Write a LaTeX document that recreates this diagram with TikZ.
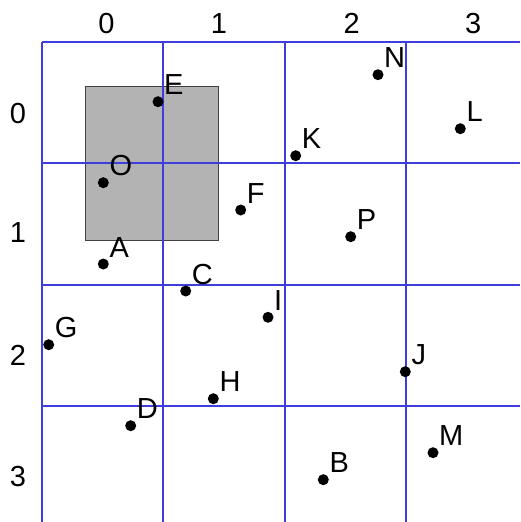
\documentclass[tikz,border=0pt]{standalone}
\usepackage{fontspec}
\setmainfont{Liberation Sans}
\usepackage{tikz}
\usetikzlibrary{positioning}
\definecolor{gridblue}{RGB}{62,62,222}
\definecolor{boxgray}{RGB}{179,179,179}
\tikzset{
  gridline/.style={draw=gridblue,line width=1.5pt},
  pt/.style={circle,fill=black,inner sep=0pt,minimum size=11pt},
  ptname/.style={anchor=base west,inner sep=0pt,font=\fontsize{29}{31}\selectfont},
  idx/.style={anchor=base,inner sep=0pt,font=\fontsize{29}{31}\selectfont},
}

\begin{document}
\begin{tikzpicture}[x=1pt,y=-1pt]
\useasboundingbox (0,0) rectangle (520,522);

% shaded block
\draw[fill=boxgray,draw=black!75,line width=1pt] (85.3,86) rectangle (218,240.3);

% grid
\foreach \g in {42,163,285,406} {
  \draw[gridline] (\g,42) -- (\g,522);
  \draw[gridline] (42,\g) -- (520,\g);
}

% column and row indices
\node[idx] (c0) at (106.5,33.3) {0};
\node[idx] (c1) at (219,33.3) {1};
\node[idx] (c2) at (351.7,33.3) {2};
\node[idx] (c3) at (473.3,33.3) {3};

\node[idx] (r0) at (18,123) {0};
\node[idx] (r1) at (18,242.5) {1};
\node[idx] (r2) at (18,365.5) {2};
\node[idx] (r3) at (18,486.5) {3};

% points
\node[pt] (E) at (158,101.7) {};
\node[pt] (O) at (103.3,182.7) {};
\node[pt] (A) at (103.3,264) {};
\node[pt] (K) at (295.7,155.7) {};
\node[pt] (F) at (240.7,210) {};
\node[pt] (N) at (378,74.7) {};
\node[pt] (L) at (460.3,128.7) {};
\node[pt] (P) at (350.7,236.7) {};
\node[pt] (C) at (185.7,291) {};
\node[pt] (I) at (268,317.3) {};
\node[pt] (G) at (48.7,344.7) {};
\node[pt] (J) at (405.3,371.7) {};
\node[pt] (H) at (213.3,398.7) {};
\node[pt] (D) at (130.7,425.7) {};
\node[pt] (M) at (433,452.7) {};
\node[pt] (B) at (323.3,479.7) {};

% point names
\node[ptname] (lE) at ([shift={(6,-7)}]E) {E};
\node[ptname] (lO) at ([shift={(6,-7)}]O) {O};
\node[ptname] (lA) at ([shift={(6,-7)}]A) {A};
\node[ptname] (lK) at ([shift={(6,-7)}]K) {K};
\node[ptname] (lF) at ([shift={(6,-7)}]F) {F};
\node[ptname] (lN) at ([shift={(6,-7)}]N) {N};
\node[ptname] (lL) at ([shift={(6,-7)}]L) {L};
\node[ptname] (lP) at ([shift={(6,-7)}]P) {P};
\node[ptname] (lC) at ([shift={(6,-7)}]C) {C};
\node[ptname] (lI) at ([shift={(6,-7)}]I) {I};
\node[ptname] (lG) at ([shift={(6,-7)}]G) {G};
\node[ptname] (lJ) at ([shift={(6,-7)}]J) {J};
\node[ptname] (lH) at ([shift={(6,-7)}]H) {H};
\node[ptname] (lD) at ([shift={(6,-7)}]D) {D};
\node[ptname] (lM) at ([shift={(6,-7)}]M) {M};
\node[ptname] (lB) at ([shift={(6,-7)}]B) {B};

\end{tikzpicture}
\end{document}
